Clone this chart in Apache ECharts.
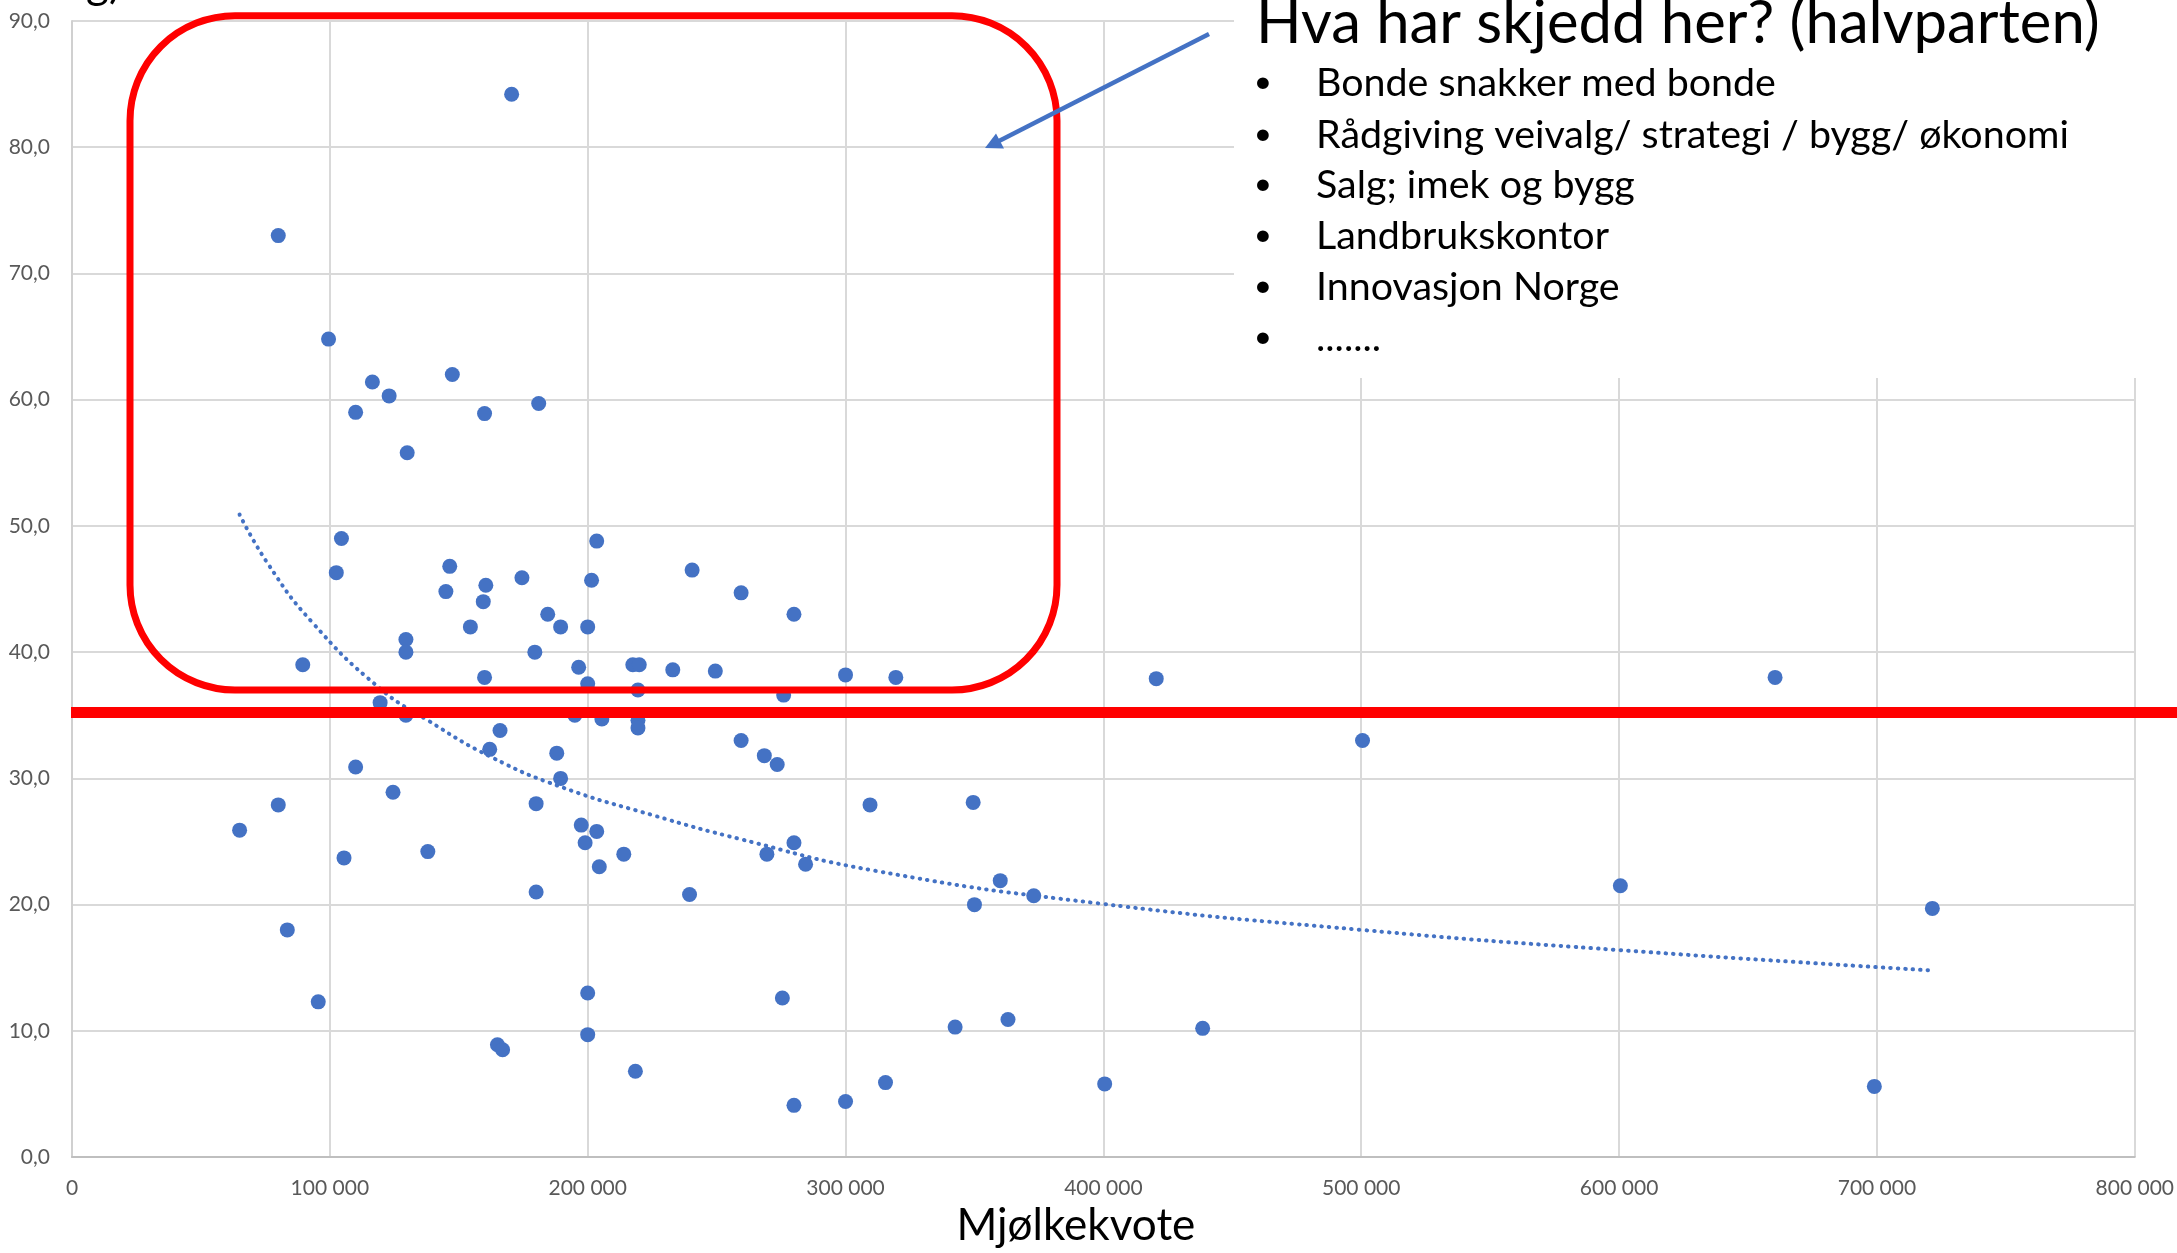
<!DOCTYPE html>
<html>
<head>
<meta charset="utf-8">
<script src="https://cdn.jsdelivr.net/npm/echarts@6/dist/echarts.min.js"></script>
<style>
html,body{margin:0;padding:0;background:#fff;}
#c{width:2177px;height:1253px;}
</style>
</head>
<body>
<div id="c"></div>
<script>
// ---- data ----
const quota = [170500, 80000, 99500, 116500, 123000, 110000, 147500, 160000, 181000, 130000,
  104500, 102500, 203500, 146500, 160500, 174500, 201500, 240500, 145000, 159500,
  259500, 280000, 184500, 154500, 189500, 200000, 129500, 129500, 179500, 89500,
  196500, 217500, 220000, 233000, 249500, 300000, 319500, 160000, 420500, 660500,
  200000, 219500, 276000, 119500, 195000, 129500, 205500, 219500, 219500, 166000,
  259500, 500500, 162000, 268500, 273500, 188000, 110000, 189500, 124500, 80000,
  180000, 309500, 349500, 65000, 197500, 203500, 199000, 280000, 138000, 214000,
  269500, 105500, 204500, 284500, 360000, 600500, 239500, 180000, 373000, 350000,
  721500, 83500, 200000, 275500, 95500, 363000, 342500, 438500, 200000, 165000,
  167000, 218500, 315500, 400500, 699000, 300000, 280000];
const share = [84.2, 73.0, 64.8, 61.4, 60.3, 59.0, 62.0, 58.9, 59.7, 55.8,
  49.0, 46.3, 48.8, 46.8, 45.3, 45.9, 45.7, 46.5, 44.8, 44.0,
  44.7, 43.0, 43.0, 42.0, 42.0, 42.0, 41.0, 40.0, 40.0, 39.0,
  38.8, 39.0, 39.0, 38.6, 38.5, 38.2, 38.0, 38.0, 37.9, 38.0,
  37.5, 37.0, 36.6, 36.0, 35.0, 35.0, 34.7, 34.6, 34.0, 33.8,
  33.0, 33.0, 32.3, 31.8, 31.1, 32.0, 30.9, 30.0, 28.9, 27.9,
  28.0, 27.9, 28.1, 25.9, 26.3, 25.8, 24.9, 24.9, 24.2, 24.0,
  24.0, 23.7, 23.0, 23.2, 21.9, 21.5, 20.8, 21.0, 20.7, 20.0,
  19.7, 18.0, 13.0, 12.6, 12.3, 10.9, 10.3, 10.2, 9.7, 8.9,
  8.5, 6.8, 5.9, 5.8, 5.6, 4.4, 4.1];
// dotted trend line
const trendX = [65000, 76000, 93000, 119000, 138000, 162500, 190000,
  225000, 259000, 311000, 398000, 500000, 600000, 720000];
const trendY = [50.9, 47.0, 42.4, 37.2, 34.6, 31.7, 29.3,
  27.1, 25.2, 22.7, 20.1, 18.0, 16.4, 14.8];
const xTicks = [0, 100000, 200000, 300000, 400000, 500000, 600000, 700000, 800000];
const yTicks = [0, 10, 20, 30, 40, 50, 60, 70, 80, 90];
const xAxisTitle = 'Mjølkekvote';
const noteTitle = 'Hva har skjedd her? (halvparten)';
const noteItems = ['Bonde snakker med bonde',
  'Rådgiving veivalg/ strategi / bygg/ økonomi',
  'Salg; imek og bygg',
  'Landbrukskontor',
  'Innovasjon Norge',
  '.......'];
const cutText = 'g)';

// ---- helpers ----
const FONT = 'Lato, "Noto Sans", sans-serif';
const ctx = document.createElement('canvas').getContext('2d');
function fitSize(text, w) {
  ctx.font = '100px ' + FONT;
  return 100 * w / ctx.measureText(text).width;
}
const titleSize = fitSize(noteTitle, 844);
const itemSize = fitSize(noteItems[0], 460);
const axisTitleSize = fitSize(xAxisTitle, 239);

function fmtX(v) { return String(v).replace(/\B(?=(\d{3})+(?!\d))/g, ' '); }
function fmtY(v) { return v.toFixed(1).replace('.', ','); }

const scatterData = quota.map((x, i) => [x, share[i]]);
const trendData = trendX.map((x, i) => [x, trendY[i]]);

const BLUE = '#4472C4';
const RED = '#FF0000';

const graphics = [];
graphics.push({ type: 'rect', z: 100, shape: { x: 1234, y: 0, width: 943, height: 378 }, style: { fill: '#fff' } });
graphics.push({ type: 'text', z: 101, x: 1256, y: 24,
  style: { text: noteTitle, font: `${titleSize}px ${FONT}`, fill: '#000', verticalAlign: 'middle', align: 'left' } });
const rowY = [83, 135, 185, 236, 287, 338];
noteItems.forEach((t, i) => {
  graphics.push({ type: 'text', z: 101, x: 1263, y: rowY[i] - 1,
    style: { text: '•', font: `${itemSize * 0.8}px ${FONT}`, fill: '#000', verticalAlign: 'middle', align: 'center' } });
  graphics.push({ type: 'text', z: 101, x: 1316, y: rowY[i],
    style: { text: t, font: `${itemSize}px ${FONT}`, fill: '#000', verticalAlign: 'middle', align: 'left' } });
});
graphics.push({ type: 'text', z: 101, x: 86, y: 6,
  style: { text: cutText, font: `${axisTitleSize}px ${FONT}`, fill: '#000', verticalAlign: 'bottom', align: 'left' } });
graphics.push({ type: 'rect', z: 110, shape: { x: 130, y: 15.7, width: 927, height: 674.3, r: 105 },
  style: { fill: 'transparent', stroke: RED, lineWidth: 7 } });
graphics.push({ type: 'line', z: 110, shape: { x1: 71, y1: 712.5, x2: 2177, y2: 712.5 },
  style: { stroke: RED, lineWidth: 11 } });
graphics.push({ type: 'line', z: 111, shape: { x1: 1209, y1: 34, x2: 998, y2: 141.5 },
  style: { stroke: BLUE, lineWidth: 4.5 } });
graphics.push({ type: 'polygon', z: 111, shape: { points: [[985, 148], [996, 133.5], [1004, 148.5]] },
  style: { fill: BLUE } });

const option = {
  backgroundColor: '#fff',
  animation: false,
  grid: { left: 72, right: 40, top: 21, bottom: 95, containLabel: false },
  xAxis: {
    type: 'value', min: xTicks[0], max: xTicks[xTicks.length - 1], interval: xTicks[1] - xTicks[0],
    name: xAxisTitle, nameLocation: 'middle', nameGap: 44,
    nameTextStyle: { fontFamily: FONT, fontSize: axisTitleSize, color: '#000', padding: [0, 55, 0, 0] },
    axisLine: { show: true, lineStyle: { color: '#BFBFBF', width: 2 } },
    axisTick: { show: false },
    axisLabel: { formatter: fmtX, fontFamily: FONT, fontSize: 21, color: '#595959', margin: 21 },
    splitLine: { show: true, lineStyle: { color: '#D9D9D9', width: 2 } }
  },
  yAxis: {
    type: 'value', min: yTicks[0], max: yTicks[yTicks.length - 1], interval: yTicks[1] - yTicks[0],
    axisLine: { show: true, lineStyle: { color: '#D0D0D0', width: 2 } },
    axisTick: { show: false },
    axisLabel: { formatter: fmtY, fontFamily: FONT, fontSize: 21, color: '#595959', margin: 22 },
    splitLine: { show: true, lineStyle: { color: '#D9D9D9', width: 2 } }
  },
  series: [
    { type: 'line', data: trendData, smooth: 0.5, showSymbol: false, z: 2,
      lineStyle: { color: BLUE, width: 4, type: [0.5, 7], cap: 'round' } },
    { type: 'scatter', data: scatterData, symbolSize: 15, z: 3,
      itemStyle: { color: BLUE, opacity: 1 } }
  ],
  graphic: graphics
};
const chart = echarts.init(document.getElementById('c'));
chart.setOption(option);
</script>
</body>
</html>
